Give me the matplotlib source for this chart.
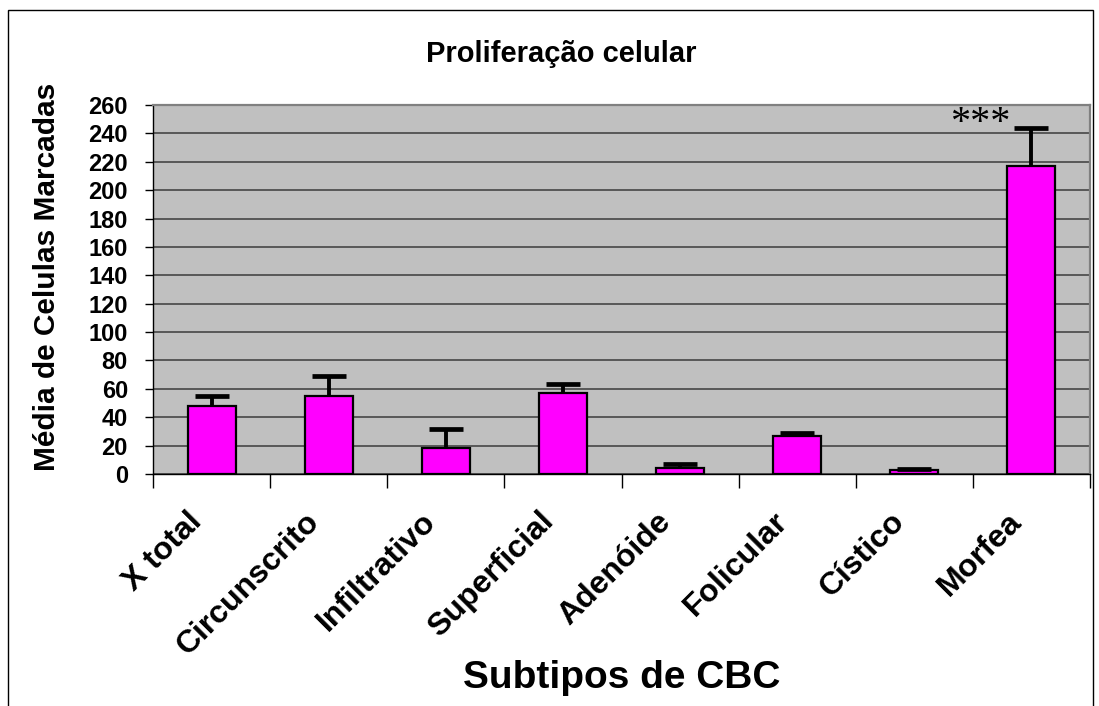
import matplotlib
matplotlib.use("Agg")
import matplotlib.pyplot as plt
from matplotlib.patches import Rectangle
import numpy as np

plt.rcParams['font.family'] = ['Liberation Sans', 'DejaVu Sans']

# Data
categories = ["X total", "Circunscrito", "Infiltrativo", "Superficial",
              "Adenóide", "Folicular", "Cístico", "Morfea"]
means = [48, 55, 18, 57, 4.5, 27, 3, 217]
err_up = [7, 14, 14, 6.5, 2.7, 2.2, 0.6, 27]
yticks = list(range(0, 261, 20))

W, H = 1099, 706
fig = plt.figure(figsize=(W / 100, H / 100), dpi=100)
ax = fig.add_axes([153 / W, 1 - 474 / H, (1090 - 153) / W, (474 - 105) / H])
ax.set_facecolor("#c0c0c0")

x = np.arange(len(categories))
ax.bar(x, means, width=0.41, color="#ff00ff", edgecolor="black", linewidth=1.6, zorder=3)
eb = ax.errorbar(x, means, yerr=[np.zeros(len(means)), err_up], fmt="none",
                 ecolor="black", elinewidth=2.8, capsize=12, capthick=3.4, zorder=4)
# only the upper cap is drawn
eb[1][0].set_visible(False)
for cl in eb[1]:
    cl.set_solid_capstyle("round")

ax.set_xlim(-0.5, len(categories) - 0.5)
ax.set_ylim(0, 260)
ax.set_yticks(yticks)
ax.yaxis.grid(True, color="#505050", linewidth=1.3, zorder=1)
ax.set_axisbelow(True)

# category ticks at the boundaries, labels near the centres
ax.set_xticks(x - 0.12)
ax.set_xticks(np.arange(-0.5, len(categories)), minor=True)
ax.tick_params(axis="x", which="major", length=0, pad=31)
ax.tick_params(axis="x", which="minor", length=10, width=1, direction="out")
ax.tick_params(axis="y", length=6, width=1, direction="out", pad=12)
ax.set_xticklabels(categories, rotation=45, ha="right", va="center",
                   rotation_mode="anchor", fontsize=23, fontweight="bold")
for lab in ax.get_yticklabels():
    lab.set_fontsize(17)
    lab.set_fontweight("bold")

for s in ["left", "bottom"]:
    ax.spines[s].set_color("black")
    ax.spines[s].set_linewidth(1)
for s in ["top", "right"]:
    ax.spines[s].set_color("#808080")
    ax.spines[s].set_linewidth(1.6)

ax.set_ylabel("Média de Celulas Marcadas", fontsize=21.5, fontweight="bold")
ax.yaxis.set_label_coords(-0.098, 0.534)
ax.set_xlabel("Subtipos de CBC", fontsize=28, fontweight="bold", va="top")
ax.xaxis.set_label_coords(0.5, -0.505)

fig.text(561 / W, 1 - 62 / H, "Proliferação celular", fontsize=21,
         fontweight="bold", ha="center", va="baseline")

ax.text(6.56, 240.5, "***", fontsize=29, family="Liberation Serif",
        ha="center", va="baseline", zorder=5)

# outer chart border
fig.add_artist(Rectangle((8 / W, -0.01), (1093 - 8) / W, 1.01 - 10 / H,
                         transform=fig.transFigure, fill=False,
                         edgecolor="black", linewidth=1))

fig.savefig("out.png", dpi=100)
